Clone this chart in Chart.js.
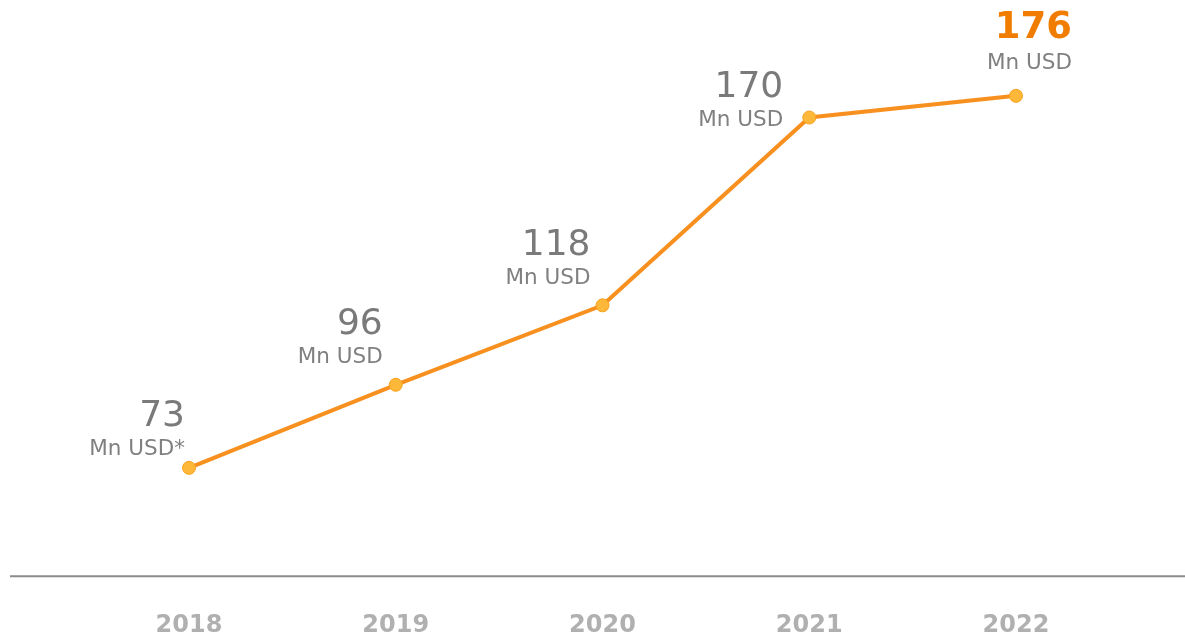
<!DOCTYPE html>
<html>
<head>
<meta charset="utf-8">
<script src="https://cdn.jsdelivr.net/npm/chart.js@4/dist/chart.umd.min.js"></script>
<style>
  html, body { margin: 0; padding: 0; background: #fff; overflow: hidden; }
  canvas { display: block; }
</style>
</head>
<body>
<canvas id="lineChart" width="1185" height="637"></canvas>
<script>
const years = ["2018", "2019", "2020", "2021", "2022"];
const revenue = [73, 96, 118, 170, 176];
const units = ["Mn USD*", "Mn USD", "Mn USD", "Mn USD", "Mn USD"];

// label placement relative to each point (right edge / unit baseline)
const labelDx = [-4, -13, -12, -26, 56];
const labelDy = [-13, -22, -21, 8, -27];

// draws the value + unit text and the long baseline
const valueLabels = {
  id: "valueLabels",
  afterDatasetsDraw(chart) {
    const ctx = chart.ctx;
    const pts = chart.getDatasetMeta(0).data;
    ctx.save();
    ctx.textAlign = "right";
    ctx.textBaseline = "alphabetic";
    pts.forEach((p, i) => {
      const x = p.x + labelDx[i];
      const y = p.y + labelDy[i];
      const last = i === pts.length - 1;
      ctx.fillStyle = "#808080";
      ctx.font = "21.5px 'DejaVu Sans'";
      ctx.fillText(units[i], x, y);
      ctx.fillStyle = last ? "#f07d00" : "#7a7a7a";
      ctx.font = last ? "bold 37px 'DejaVu Sans'" : "36px 'DejaVu Sans'";
      ctx.fillText(String(revenue[i]), x, y - (last ? 31 : 29));
    });
    ctx.restore();
  },
  beforeDatasetsDraw(chart) {
    const ctx = chart.ctx;
    const y = chart.chartArea.bottom;
    ctx.save();
    ctx.strokeStyle = "#8c8c8c";
    ctx.lineWidth = 2;
    ctx.beginPath();
    ctx.moveTo(10, y);
    ctx.lineTo(chart.width, y);
    ctx.stroke();
    ctx.restore();
  }
};

const ctx = document.getElementById("lineChart").getContext("2d");
new Chart(ctx, {
  type: "line",
  data: {
    labels: years,
    datasets: [
      {
        data: revenue,
        borderColor: "#f7901e",
        borderWidth: 4,
        pointRadius: 6.5,
        pointBackgroundColor: "#fdb83a",
        pointBorderColor: "#f7a21e",
        pointBorderWidth: 1,
        tension: 0,
      },
    ],
  },
  options: {
    responsive: false,
    animation: false,
    layout: { padding: { left: 189, right: 169, top: 20, bottom: -38 } },
    plugins: { legend: { display: false }, tooltip: { enabled: false } },
    scales: {
      x: {
        offset: false,
        grid: { display: false, drawTicks: false },
        border: { display: false },
        ticks: {
          color: "#b0b0b0",
          padding: 35,
          font: { family: "DejaVu Sans", size: 24, weight: "bold" },
        },
      },
      y: { display: false, min: 43, max: 197 },
    },
  },
  plugins: [valueLabels],
});
</script>
</body>
</html>
